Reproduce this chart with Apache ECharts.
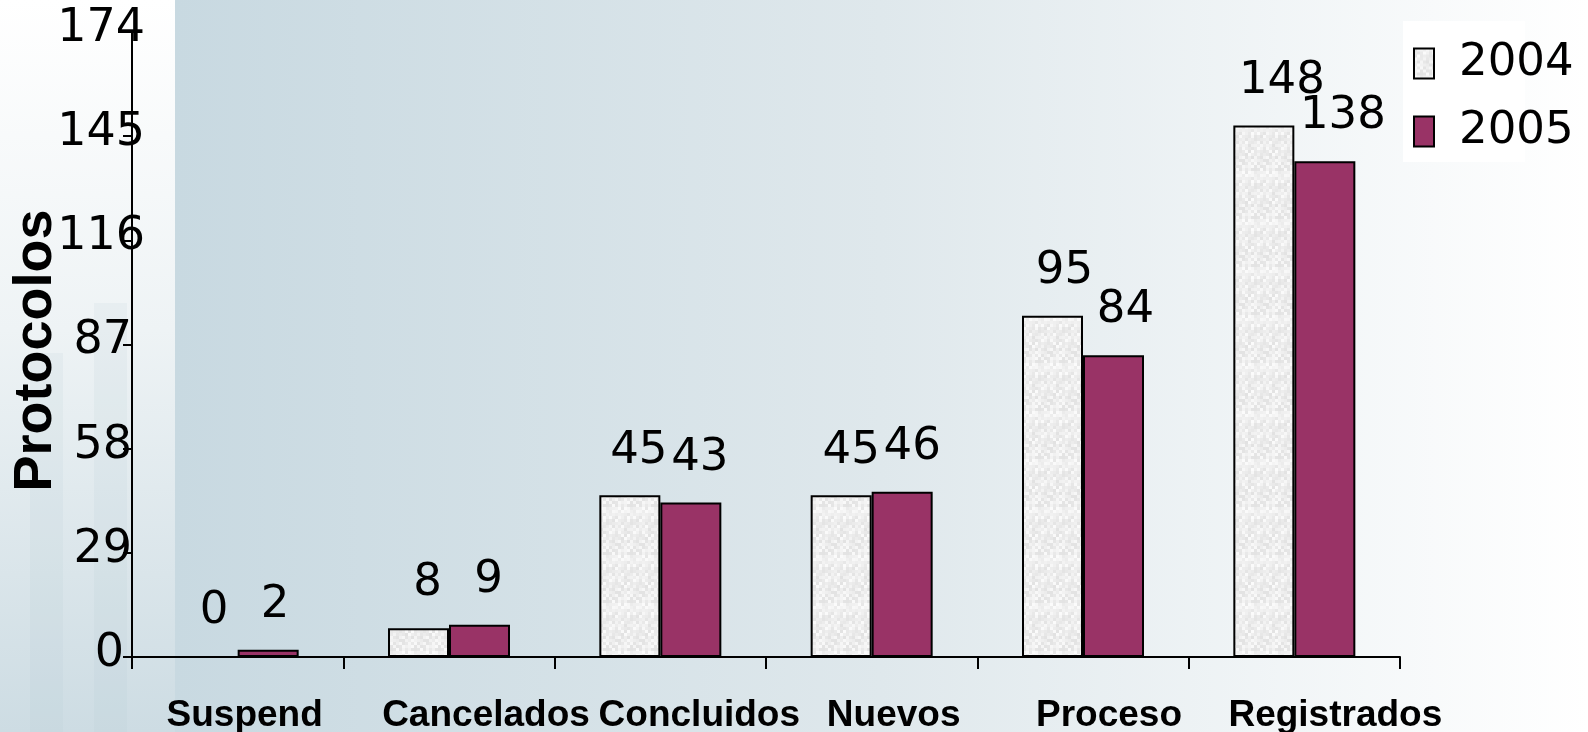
<!DOCTYPE html>
<html>
<head>
<meta charset="utf-8">
<script src="https://cdn.jsdelivr.net/npm/echarts@6/dist/echarts.min.js"></script>
<style>
html,body{margin:0;padding:0;background:#fff;}
#chart{width:1588px;height:732px;}
</style>
</head>
<body>
<div id="chart"></div>
<script>
// ---- data ----
const categories = ['Suspend', 'Cancelados', 'Concluidos', 'Nuevos', 'Proceso', 'Registrados'];
const seriesNames = ['2004', '2005'];
const values2004 = [0, 8, 45, 45, 95, 148];
const values2005 = [2, 9, 43, 46, 84, 138];
const yMin = 0;
const yMax = 174;
const yInterval = 29;
const yAxisTitle = 'Protocolos';

// ---- layout tweaks (not data) ----
const xLabelShift = [7, 37, 39, 22, 26, 41];
const valueLabelShift = [7, 9, 9, 10, 12, 18];
const yLabelPadRight = {1: 21, 2: 13, 3: 0};

// light grey speckled texture for the 2004 bars (deterministic hash, style only)
function makeTexture() {
  const c = document.createElement('canvas');
  c.width = 24; c.height = 48;
  const ctx = c.getContext('2d');
  ctx.fillStyle = '#efefef';
  ctx.fillRect(0, 0, 24, 48);
  for (let y = 0; y < 48; y += 3) {
    for (let x = 0; x < 24; x += 3) {
      const h = Math.abs(Math.sin(x * 12.9898 + y * 78.233) * 43758.5453) % 1;
      const g = Math.round(226 + h * 26);
      ctx.fillStyle = 'rgb(' + g + ',' + g + ',' + g + ')';
      ctx.fillRect(x, y, 3, 3);
    }
  }
  return c;
}
const texture = makeTexture();

const chart = echarts.init(document.getElementById('chart'), null, {renderer: 'canvas'});

const rich = {};
xLabelShift.forEach((s, i) => {
  rich['c' + i] = {
    fontFamily: 'Liberation Sans',
    fontWeight: 'bold',
    fontSize: 37,
    color: '#000',
    padding: [0, 0, 0, 2 * s]
  };
});

const yRich = {};
Object.keys(yLabelPadRight).forEach(k => {
  yRich['d' + k] = {
    fontFamily: 'DejaVu Sans',
    fontSize: 46,
    color: '#000',
    padding: [0, yLabelPadRight[k], 0, 0]
  };
});

function makeData(vals) {
  return vals.map((v, i) => ({value: v, label: {offset: [valueLabelShift[i], 0]}}));
}

const valueLabel = {
  show: true,
  position: 'top',
  distance: 22,
  fontFamily: 'DejaVu Sans',
  fontSize: 45,
  lineHeight: 45,
  color: '#000'
};

const option = {
  backgroundColor: '#ffffff',
  animation: false,
  graphic: {
    elements: [
      {
        type: 'rect', z: -10, silent: true,
        shape: {x: 0, y: 0, width: 176, height: 732},
        style: {fill: new echarts.graphic.LinearGradient(0, 0, 0, 1, [
          {offset: 0, color: '#ffffff'},
          {offset: 0.45, color: '#eef3f5'},
          {offset: 1, color: '#cddce3'}
        ])}
      },
      {
        type: 'rect', z: -9, silent: true,
        shape: {x: 30, y: 353, width: 33, height: 379},
        style: {fill: 'rgba(170,195,208,0.12)'}
      },
      {
        type: 'rect', z: -9, silent: true,
        shape: {x: 94, y: 303, width: 33, height: 429},
        style: {fill: 'rgba(170,195,208,0.12)'}
      },
      {
        type: 'rect', z: -10, silent: true,
        shape: {x: 175, y: 0, width: 1413, height: 732},
        style: {fill: new echarts.graphic.LinearGradient(0, 0, 1, 0, [
          {offset: 0, color: '#c8d9e1'},
          {offset: 0.5, color: '#dfe8ec'},
          {offset: 1, color: '#ffffff'}
        ])}
      },
      {
        type: 'rect', z: -8, silent: true,
        shape: {x: 1403, y: 21, width: 122, height: 141},
        style: {fill: '#ffffff'}
      }
    ]
  },
  grid: {left: 132, right: 188, top: 32, bottom: 75, containLabel: false, outerBoundsMode: 'none'},
  legend: {
    orient: 'vertical',
    left: 1408,
    top: 36,
    icon: 'rect',
    itemWidth: 20,
    itemHeight: 30,
    itemGap: 23,
    selectedMode: false,
    textStyle: {
      fontFamily: 'DejaVu Sans',
      fontSize: 45,
      lineHeight: 45,
      color: '#000',
      padding: [0, 0, 0, 20]
    },
    data: seriesNames
  },
  xAxis: {
    type: 'category',
    data: categories,
    axisLine: {lineStyle: {color: '#000', width: 2}},
    axisTick: {show: true, length: 12, lineStyle: {color: '#000', width: 2}},
    axisLabel: {
      margin: 40,
      interval: 0,
      formatter: (v, i) => '{c' + i + '|' + v + '}',
      rich: rich
    },
    splitLine: {show: false}
  },
  yAxis: {
    type: 'value',
    min: yMin,
    max: yMax,
    interval: yInterval,
    name: yAxisTitle,
    nameLocation: 'middle',
    nameGap: 69,
    nameMoveOverlap: false,
    nameRotate: 90,
    nameTextStyle: {
      fontFamily: 'Liberation Sans',
      fontWeight: 'bold',
      fontSize: 54,
      color: '#000',
      padding: [0, 12, 0, 0]
    },
    axisLine: {show: true, lineStyle: {color: '#000', width: 2}},
    axisTick: {show: true, length: 9, lineStyle: {color: '#000', width: 2}},
    axisLabel: {
      margin: -13,
      padding: [0, 0, 6, 0],
      formatter: v => {
        const s = String(v);
        return '{d' + Math.min(s.length, 3) + '|' + s + '}';
      },
      rich: yRich
    },
    splitLine: {show: false}
  },
  series: [
    {
      name: seriesNames[0],
      type: 'bar',
      data: makeData(values2004),
      barWidth: 61,
      barGap: '0%',
      itemStyle: {color: {image: texture, repeat: 'repeat'}, borderColor: '#000', borderWidth: 2},
      label: valueLabel
    },
    {
      name: seriesNames[1],
      type: 'bar',
      data: makeData(values2005),
      barWidth: 61,
      barGap: '0%',
      itemStyle: {color: '#993366', borderColor: '#000', borderWidth: 2},
      label: valueLabel
    }
  ]
};

chart.setOption(option);
</script>
</body>
</html>
